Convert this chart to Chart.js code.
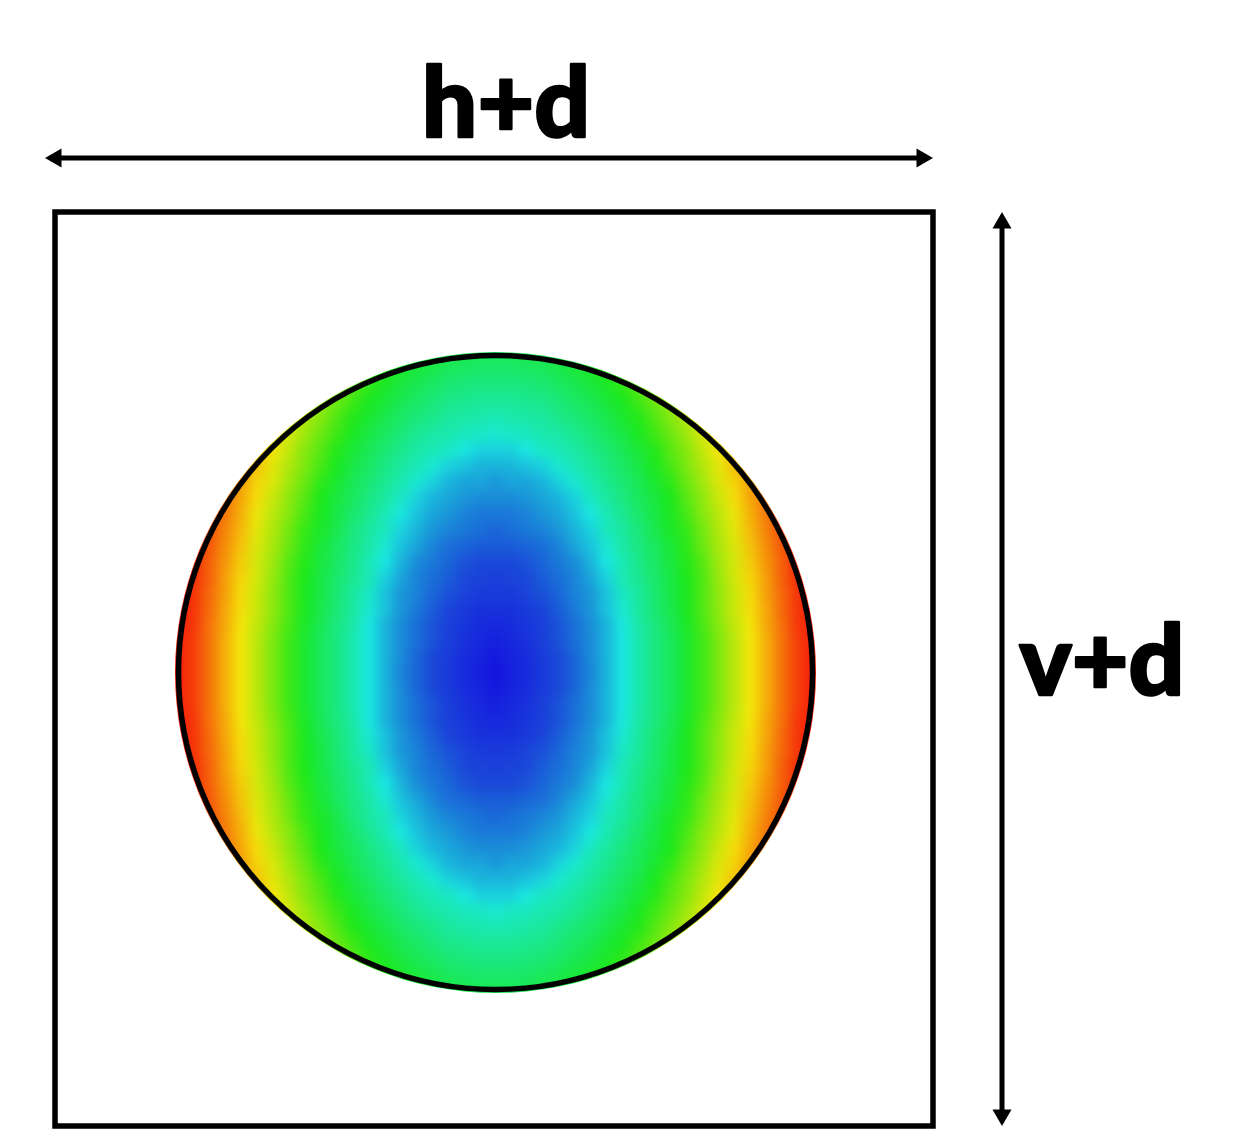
<!DOCTYPE html>
<html><head><meta charset="utf-8">
<style>html,body{margin:0;padding:0;background:#fff}canvas{display:block}</style>
<script src="https://cdn.jsdelivr.net/npm/chart.js@4"></script>
</head><body><canvas id="c" width="1257" height="1145"></canvas>
<script>
// Level: 0 deep blue, 25 cyan, 50 green, 75 yellow, 100 red.
// One quadrant of the mirror-symmetric disc, rows going away from the centre.
const gridStep = 16;
const levels = [
[0,3,6,9,12,15,18,22,25,30,36,41,47,54,61,68,75,81,88,94,100,100],
[2,4,6,9,12,15,19,22,25,30,36,41,47,54,61,68,75,81,88,94,100,100],
[3,5,7,10,13,16,19,22,25,30,36,41,47,54,61,68,75,81,88,94,100,100],
[5,6,8,10,13,16,19,22,25,31,36,42,48,55,62,69,75,82,88,95,100,100],
[7,7,9,11,14,17,20,23,26,32,38,43,49,56,63,70,76,82,89,95,100,100],
[9,9,11,13,15,18,20,23,27,32,38,44,49,56,63,70,76,83,89,95,100,100],
[10,11,12,14,16,18,21,24,29,34,39,44,50,56,64,71,77,83,90,96,100,100],
[12,12,13,15,17,19,22,25,29,35,40,45,51,57,65,71,78,84,90,96,100,100],
[14,14,15,16,18,21,23,26,31,36,41,46,52,59,66,72,79,85,91,97,100,100],
[15,16,17,18,20,22,24,28,32,37,43,48,53,60,67,73,80,86,92,98,100,100],
[17,17,18,20,21,23,25,29,34,39,44,49,55,62,68,74,81,87,93,99,100,100],
[19,19,20,21,22,24,27,32,36,41,45,50,57,63,70,76,82,88,94,100,100,100],
[20,21,21,22,24,26,30,34,38,42,47,52,59,65,72,77,83,89,96,100,100,100],
[22,22,23,24,26,29,32,36,40,44,49,55,61,67,73,79,85,91,97,100,100,100],
[24,24,25,27,29,31,35,38,42,46,51,57,62,69,75,80,86,92,98,100,100,100],
[26,27,28,30,31,34,37,41,44,49,54,59,65,71,76,82,88,94,99,100,100,100],
[29,30,31,32,35,37,40,43,47,51,56,62,67,73,78,84,90,95,100,100,100,100],
[33,33,34,35,37,40,42,46,49,54,59,64,69,75,80,86,91,97,100,100,100,100],
[36,36,37,38,40,42,45,48,52,57,62,67,72,77,82,87,93,98,100,100,100,100],
[39,39,40,41,43,45,48,51,55,60,64,69,74,79,84,90,95,100,100,100,100,100],
[42,42,43,44,46,48,51,55,59,63,68,73,77,82,87,92,97,100,100,100,100,100],
[45,45,46,47,48,51,55,58,62,67,71,75,80,85,90,95,100,100,100,100,100,100]
];
const colourStops = [
[0,[20,16,224]],[12,[26,72,216]],[20,[26,150,216]],[24,[26,210,222]],[25,[26,232,224]],[27,[26,232,196]],
[50,[26,232,26]],[62,[133,232,15]],[75,[245,230,10]],[85,[245,140,10]],[96,[245,42,10]],[100,[245,30,10]]
];
const frameX = [-440,438,438,-440,-440];
const frameY = [460,460,-454,-454,460];
const hArrowX = [-439,427];
const hArrowY = [514,514];
const vArrowX = [507,507];
const vArrowY = [449,-443];
const discCentre = [0.5,-0.5];
const discRadius = 317;
const hLabel = 'h+d';
const vLabel = 'v+d';
const hLabelAt = [11,535];
const vLabelAt = [607,-23];

function colourFor(v){
  for(let k=1;k<colourStops.length;k++){
    const [a,ca]=colourStops[k-1],[b,cb]=colourStops[k];
    if(v<=b){const t=(v-a)/(b-a);
      return 'rgb('+ca.map((c,n)=>Math.round(c+(cb[n]-c)*t)).join(',')+')';}
  }
  return 'rgb(245,30,10)';
}
const cells=[],cellColours=[];
levels.forEach((row,j)=>row.forEach((v,i)=>{
  for(const sx of (i?[-1,1]:[1])) for(const sy of (j?[-1,1]:[1])){
    cells.push({x:sx*i*gridStep+discCentre[0],y:sy*j*gridStep+discCentre[1]});
    cellColours.push(colourFor(v));
  }
}));

const discPlugin={
  id:'disc',
  afterDatasetDraw(chart,args){
    if(args.index!==0) return;
    const ctx=chart.ctx,cv=ctx.canvas;
    const off=document.createElement('canvas');off.width=cv.width;off.height=cv.height;
    off.getContext('2d').drawImage(cv,0,0);
    const x=chart.scales.x,y=chart.scales.y;
    ctx.save();
    ctx.clearRect(0,0,cv.width,cv.height);
    ctx.beginPath();
    ctx.arc(x.getPixelForValue(discCentre[0]),y.getPixelForValue(discCentre[1]),discRadius+3.5,0,Math.PI*2);
    ctx.clip();
    ctx.filter='blur(6px)';
    ctx.drawImage(off,0,0);
    ctx.restore();
  },
  afterDraw(chart){
    const ctx=chart.ctx,x=chart.scales.x,y=chart.scales.y;
    ctx.save();
    ctx.fillStyle='#000';
    ctx.strokeStyle='#000';
    ctx.lineWidth=2.5;
    ctx.lineJoin='round';
    ctx.font='900 98px Lato';
    ctx.textAlign='center';
    ctx.textBaseline='alphabetic';
    const put=(t,at)=>{
      const px=x.getPixelForValue(at[0]),py=y.getPixelForValue(at[1]);
      ctx.fillText(t,px,py);ctx.strokeText(t,px,py);
    };
    put(hLabel,hLabelAt);
    put(vLabel,vLabelAt);
    ctx.restore();
  }
};
const pair=(xs,ys)=>xs.map((v,i)=>({x:v,y:ys[i]}));
new Chart(document.getElementById('c'),{
  type:'scatter',
  data:{datasets:[
    {label:'level',type:'scatter',data:cells,pointStyle:'rect',pointRadius:13,pointBorderWidth:0,
     pointBackgroundColor:cellColours,clip:false,order:6},
    {label:'disc outline',type:'bubble',data:[{x:discCentre[0],y:discCentre[1],r:discRadius}],
     backgroundColor:'rgba(0,0,0,0)',borderColor:'#000',borderWidth:5.5,clip:false,order:5},
    {label:'frame',type:'line',data:pair(frameX,frameY),borderColor:'#000',borderWidth:5.5,pointRadius:0,
     borderJoinStyle:'miter',borderCapStyle:'square',tension:0,fill:false,clip:false,order:4},
    {label:'h+d arrow',type:'line',data:pair(hArrowX,hArrowY),borderColor:'#000',borderWidth:5,
     pointStyle:'triangle',pointRadius:11,pointRotation:[-90,90],pointBackgroundColor:'#000',pointBorderWidth:0,
     tension:0,fill:false,clip:false,order:3},
    {label:'v+d arrow',type:'line',data:pair(vArrowX,vArrowY),borderColor:'#000',borderWidth:5,
     pointStyle:'triangle',pointRadius:11,pointRotation:[0,180],pointBackgroundColor:'#000',pointBorderWidth:0,
     tension:0,fill:false,clip:false,order:2}
  ]},
  options:{
    responsive:false,animation:false,
    events:[],
    layout:{padding:0,autoPadding:false},
    plugins:{legend:{display:false},tooltip:{enabled:false}},
    scales:{
      x:{type:'linear',min:-495,max:762,display:false},
      y:{type:'linear',min:-473,max:672,display:false}
    }
  },
  plugins:[discPlugin]
});
</script></body></html>
